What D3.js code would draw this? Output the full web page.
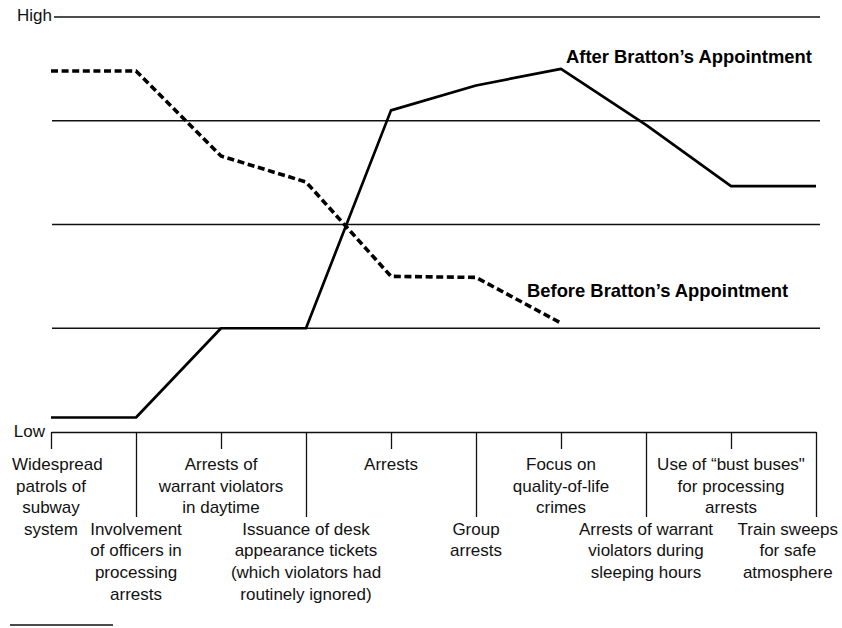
<!DOCTYPE html>
<html>
<head>
<meta charset="utf-8">
<script src="https://cdn.jsdelivr.net/npm/d3@7"></script>
<style>
  body { margin: 0; background: #fff; }
  svg { display: block; font-family: "Liberation Sans", Arial, Helvetica, sans-serif; }
</style>
</head>
<body>
<svg width="842" height="628"></svg>
<script>
// tactics along the bottom, in order
const tactics = [
    ["Widespread", "patrols of", "subway", "system"],
    ["Involvement", "of officers in", "processing", "arrests"],
    ["Arrests of", "warrant violators", "in daytime"],
    ["Issuance of desk", "appearance tickets", "(which violators had", "routinely ignored)"],
    ["Arrests"],
    ["Group", "arrests"],
    ["Focus on", "quality-of-life", "crimes"],
    ["Arrests of warrant", "violators during", "sleeping hours"],
    ["Use of \u201cbust buses\"", "for processing", "arrests"],
    ["Train sweeps", "for safe", "atmosphere"]
];

// 0 = low, 4 = high
const afterValues = [0.14, 0.14, 1.0, 1.0, 3.1, 3.34, 3.5, 2.96, 2.37, 2.37];
const beforeValues = [3.48, 3.48, 2.66, 2.41, 1.5, 1.49, 1.05];

const gridLevels = [1, 2, 3, 4];
const levelValues = [0, 4];
const levelLabels = ["Low", "High"];
const seriesLabels = ["After Bratton\u2019s Appointment", "Before Bratton\u2019s Appointment"];

const svg = d3.select("svg");

const x = d3.scalePoint()
    .domain(d3.range(tactics.length))
    .range([51, 816]);

const y = d3.scaleLinear()
    .domain([0, 4])
    .range([432, 17]);

// horizontal level lines
svg.append("g")
    .selectAll("line")
    .data(gridLevels)
    .enter().append("line")
        .attr("x1", (d) => d === 4 ? 54 : 52)
        .attr("x2", 820)
        .attr("y1", (d) => y(d))
        .attr("y2", (d) => y(d))
        .attr("stroke", "#111")
        .attr("stroke-width", 1.3);

// low / high words
svg.append("g")
    .selectAll("text")
    .data(levelValues)
    .enter().append("text")
        .attr("x", (d) => d === 4 ? 52 : 45)
        .attr("y", (d) => y(d) + (d === 4 ? 4 : 5))
        .attr("text-anchor", "end")
        .attr("font-size", 17)
        .attr("fill", "#111")
        .text((d, i) => levelLabels[i]);

// bottom axis, long ticks for the lower row of labels
const axis = svg.append("g")
    .attr("transform", `translate(0,${y(0)})`)
    .call(d3.axisBottom(x).tickSize(17).tickSizeOuter(0).tickFormat(""));

axis.select(".domain").attr("stroke", "#111").attr("stroke-width", 1.3);
axis.selectAll(".tick line")
    .attr("stroke", "#111")
    .attr("stroke-width", 1.3)
    .attr("y2", (d) => d % 2 ? 85 : 17);

// tactic labels
const lineHeight = 21.6;
const labels = svg.append("g")
    .attr("font-size", 17)
    .attr("fill", "#111")
    .attr("text-anchor", "middle");

tactics.forEach((lines, i) => {
    const g = labels.append("text");
    const startLine = i % 2 ? 3 : 0;
    lines.forEach((t, j) => {
        g.append("tspan")
            .attr("x", x(i))
            .attr("y", 470 + (startLine + j) * lineHeight)
            .text(t);
    });
    // keep the outer labels inside the page
    const spans = g.selectAll("tspan").nodes();
    const widest = d3.max(spans, (n) => n.getComputedTextLength());
    if (x(i) + widest / 2 > 838) {
        spans.forEach((n) => n.setAttribute("x", 838 - widest / 2));
    }
    spans.forEach((n) => {
        const w = n.getComputedTextLength();
        if (+n.getAttribute("x") - w / 2 < 12) n.setAttribute("x", 12 + w / 2);
    });
});

const line = d3.line()
    .x((d, i) => x(i))
    .y((d) => y(d));

svg.append("path")
    .datum(afterValues)
    .attr("d", line)
    .attr("fill", "none")
    .attr("stroke", "#000")
    .attr("stroke-width", 2.7)
    .attr("stroke-linejoin", "round");

svg.append("path")
    .datum(beforeValues)
    .attr("d", line)
    .attr("fill", "none")
    .attr("stroke", "#000")
    .attr("stroke-width", 3.6)
    .attr("stroke-dasharray", "7,3.6");

// series labels
svg.append("text")
    .attr("x", 566)
    .attr("y", 63)
    .attr("font-size", 18.4)
    .attr("font-weight", "bold")
    .attr("fill", "#000")
    .text(seriesLabels[0]);

svg.append("text")
    .attr("x", 527)
    .attr("y", 297)
    .attr("font-size", 18.4)
    .attr("font-weight", "bold")
    .attr("fill", "#000")
    .text(seriesLabels[1]);

// short rule at the foot
svg.append("line")
    .attr("x1", 10)
    .attr("x2", 113)
    .attr("y1", 625)
    .attr("y2", 625)
    .attr("stroke", "#111")
    .attr("stroke-width", 1.5);
</script>
</body>
</html>
